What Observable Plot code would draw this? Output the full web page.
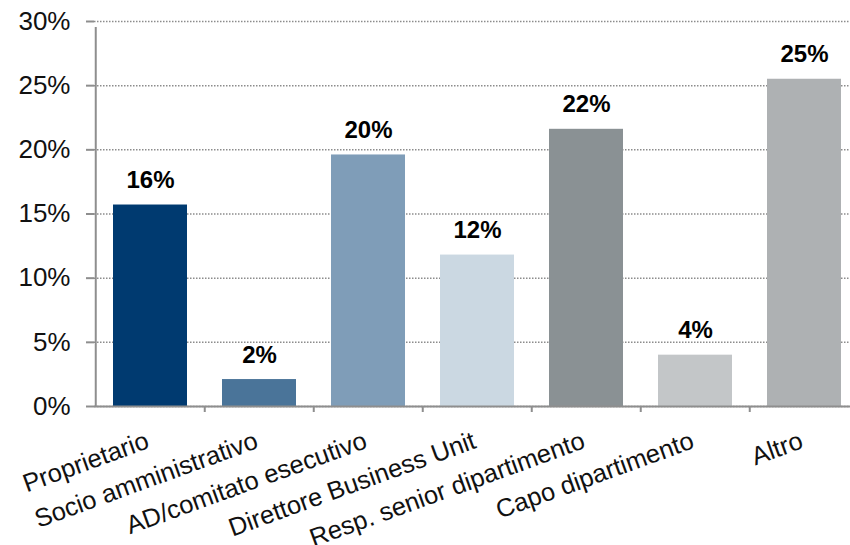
<!DOCTYPE html>
<html>
<head>
<meta charset="utf-8">
<script src="https://cdn.jsdelivr.net/npm/d3@7"></script>
<script src="https://cdn.jsdelivr.net/npm/@observablehq/plot@0.6"></script>
<style>
  html, body { margin: 0; padding: 0; background: #fff; }
  #chart svg { display: block; }
</style>
</head>
<body>
<div id="chart"></div>
<script>
const categories = [
  "Proprietario",
  "Socio amministrativo",
  "AD/comitato esecutivo",
  "Direttore Business Unit",
  "Resp. senior dipartimento",
  "Capo dipartimento",
  "Altro"
];
const values = [0.157, 0.021, 0.196, 0.118, 0.216, 0.040, 0.255];
const valueLabels = ["16%", "2%", "20%", "12%", "22%", "4%", "25%"];
const barColors = ["#003a70", "#4a7499", "#7f9db8", "#cbd8e2", "#8a9194", "#c3c6c8", "#aeb1b3"];
const yTicks = [0, 0.05, 0.10, 0.15, 0.20, 0.25, 0.30];

const data = categories.map((c, i) => ({cat: c, value: values[i], label: valueLabels[i]}));

const W = 850, H = 545;
const left = 94, right = 860.5;
const step = (right - left) / categories.length;
const axisColor = "#8e8e8e";
const font = "Liberation Sans, Arial, sans-serif";

const chart = Plot.plot({
  width: W,
  height: H,
  marginLeft: left,
  marginRight: 0,
  marginTop: 21,
  marginBottom: 139,
  style: {fontFamily: font, background: "#fff", overflow: "hidden"},
  x: {type: "band", domain: categories, range: [left, right], paddingInner: 0.324, paddingOuter: 0.162, axis: null},
  y: {type: "linear", domain: [0, 0.30], axis: null},
  color: {domain: categories, range: barColors},
  marks: [
    Plot.gridY(yTicks, {stroke: "#8c8c8c", strokeOpacity: 1, strokeWidth: 1.5, strokeDasharray: "1.5,1.5"}),
    Plot.barY(data, {x: "cat", y: "value", fill: "cat"}),
    // y axis line
    Plot.ruleX([categories[0]], {x: d => d, y1: 0, y2: 0.30, dx: -step / 2, stroke: axisColor, strokeWidth: 2, insetBottom: -6}),
    // x baseline
    Plot.ruleY([0], {stroke: axisColor, strokeWidth: 2}),
    // x boundary ticks (below the baseline)
    Plot.ruleX(categories.slice(1), {x: d => d, y1: 0, y2: 0, dx: -step / 2, stroke: axisColor, strokeWidth: 2, insetBottom: -6}),
    Plot.axisY(yTicks, {
      tickFormat: d3.format(".0%"),
      tickSize: 8,
      tickPadding: 16,
      stroke: axisColor,
      strokeWidth: 2,
      fontSize: 26,
      fill: "#111",
      label: null
    }),
    Plot.text(data, {
      x: "cat", y: "value", text: "label",
      lineAnchor: "bottom", dy: -17,
      fontSize: 24, fontWeight: "bold", fill: "#000"
    }),
    Plot.text(categories, {
      x: d => d, y: () => 0, text: d => d,
      rotate: -20, textAnchor: "end", lineAnchor: "bottom",
      dy: 41, fontSize: 25.5, fill: "#111"
    })
  ]
});

document.getElementById("chart").append(chart);
</script>
</body>
</html>
